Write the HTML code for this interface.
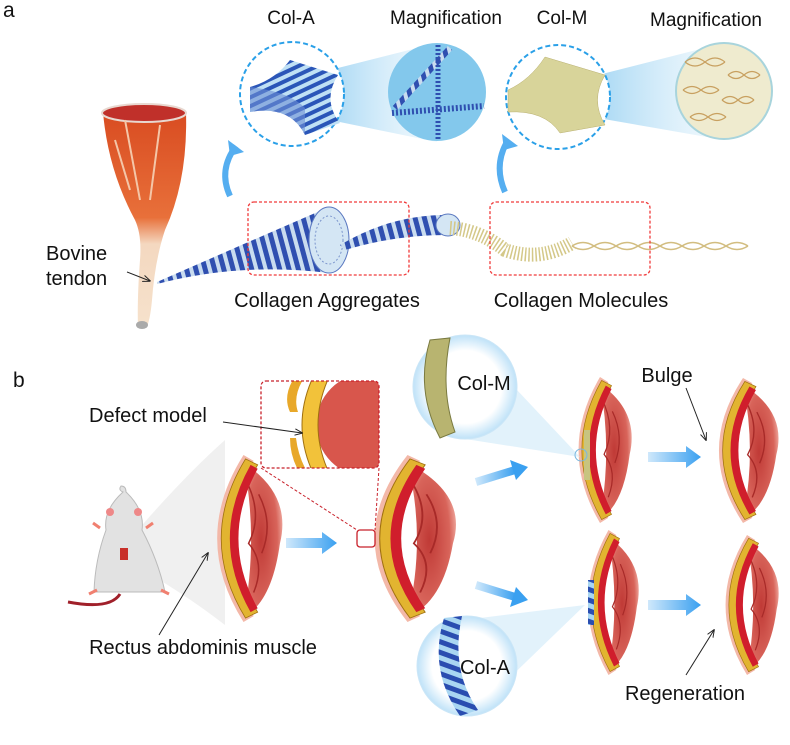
<!DOCTYPE html>
<html><head><meta charset="utf-8"><style>
html,body{margin:0;padding:0;background:#fff}
svg{display:block}
text{font-family:"Liberation Sans",Arial,sans-serif;fill:#111}
</style></head><body>
<svg width="790" height="745" viewBox="0 0 790 745" xmlns="http://www.w3.org/2000/svg">
<defs>
<pattern id="stripe" width="9" height="9" patternUnits="userSpaceOnUse" patternTransform="rotate(-15)">
<rect width="9" height="9" fill="#c9dcef"/><rect width="5" height="9" fill="#2f4fb0"/></pattern>
<pattern id="stripeH" width="10" height="8" patternUnits="userSpaceOnUse" patternTransform="rotate(-25)">
<rect width="10" height="8" fill="#bfe0f5"/><rect width="10" height="4" fill="#2b56b8"/></pattern>
<pattern id="stripeA" width="10" height="10" patternUnits="userSpaceOnUse" patternTransform="rotate(20)">
<rect width="10" height="10" fill="#a9d6f2"/><rect width="10" height="5" fill="#2a4db0"/></pattern>
<linearGradient id="cone" x1="0" x2="1"><stop offset="0" stop-color="#9fd4f3" stop-opacity=".9"/><stop offset="1" stop-color="#dff1fb" stop-opacity=".4"/></linearGradient>
<linearGradient id="tend" x1="0" y1="0" x2="0" y2="1"><stop offset="0" stop-color="#d84a20"/><stop offset=".5" stop-color="#e8703a"/><stop offset=".62" stop-color="#f4d8c0"/><stop offset="1" stop-color="#f6e2cc"/></linearGradient>
<linearGradient id="barrow" x1="0" x2="1"><stop offset="0" stop-color="#cfe8fb"/><stop offset="1" stop-color="#3aa0f0"/></linearGradient>
<radialGradient id="intes" cx=".45" cy=".5" r=".6"><stop offset="0" stop-color="#c03a36"/><stop offset=".7" stop-color="#d8645a"/><stop offset="1" stop-color="#f2b2a8"/></radialGradient>
<radialGradient id="bubble" cx=".5" cy=".5" r=".5"><stop offset=".7" stop-color="#fff"/><stop offset="1" stop-color="#bfe2f8"/></radialGradient>
<clipPath id="inclip"><rect x="261" y="381" width="118" height="87" rx="5"/></clipPath>
<symbol id="abd" viewBox="0 0 80 170" preserveAspectRatio="none">
<path d="M40,8 Q88,40 76,90 Q68,150 40,165 Q55,85 40,8 Z" fill="url(#intes)"/>
<path d="M42,25 Q60,60 45,90 Q62,110 50,140 M55,40 Q70,70 58,100" stroke="#a82a28" stroke-width="1.5" fill="none"/>
<path d="M40,0 Q-12,85 40,170 L50,164 Q6,85 50,6 Z" fill="#f3b8a8"/>
<path d="M42,4 Q-6,85 42,166 L54,160 Q12,85 54,10 Z" fill="#e2b430" stroke="#a07010" stroke-width=".8"/>
<path d="M47,10 Q6,85 47,160 L54,156 Q16,85 54,14 Z" fill="#d01e2c"/>
</symbol>
<marker id="ah" viewBox="0 0 10 10" refX="9" refY="5" markerWidth="8" markerHeight="8" orient="auto"><path d="M0,1 L10,5 L0,9" fill="none" stroke="#222" stroke-width="1.2"/></marker>
</defs>

<text x="3" y="17" font-size="21">a</text>
<text x="291" y="24" font-size="19" text-anchor="middle">Col-A</text>
<text x="446" y="24" font-size="19" text-anchor="middle">Magnification</text>
<text x="562" y="24" font-size="19" text-anchor="middle">Col-M</text>
<text x="706" y="26" font-size="19" text-anchor="middle">Magnification</text>

<path d="M330,70 L437,43 L437,142 L330,120 Z" fill="url(#cone)"/>
<circle cx="292" cy="94" r="52" fill="#fff" stroke="#2aa0e8" stroke-width="2" stroke-dasharray="5,3"/>
<path d="M250,87 Q275,80 290,60 L338,75 Q322,100 340,123 L305,135 Q290,105 250,112 Z" fill="url(#stripeH)"/>
<path d="M250,112 Q290,105 305,135 L305,108 Q290,92 250,87 Z" fill="#6e8fd4" opacity=".6"/>
<circle cx="437" cy="92" r="49" fill="#83c8ec"/>
<line x1="395" y1="108" x2="450" y2="48" stroke="url(#stripe)" stroke-width="6"/>
<line x1="438" y1="45" x2="438" y2="140" stroke="#2f4fb0" stroke-width="5" stroke-dasharray="2,2"/>
<line x1="392" y1="113" x2="484" y2="106" stroke="#2f4fb0" stroke-width="6" stroke-dasharray="2,2"/>

<path d="M598,75 L724,43 L724,140 L598,118 Z" fill="url(#cone)"/>
<circle cx="558" cy="97" r="52" fill="#fff" stroke="#2aa0e8" stroke-width="2" stroke-dasharray="5,3"/>
<path d="M508,90 Q530,80 545,57 L605,75 Q590,100 605,125 L560,133 Q545,110 508,112 Z" fill="#d8d49a" stroke="#b9b070" stroke-width=".5"/>
<circle cx="724" cy="91" r="48" fill="#efebcf" stroke="#a8d4dc" stroke-width="2"/>
<g stroke="#c8a060" stroke-width="1.2" fill="none">
<path d="M685,62 q10,-8 20,0 q10,8 20,0 M685,62 q10,8 20,0 q10,-8 20,0"/>
<path d="M728,75 q8,-7 16,0 q8,7 16,0 M728,75 q8,7 16,0 q8,-7 16,0"/>
<path d="M683,90 q9,-7 18,0 q9,7 18,0 M683,90 q9,7 18,0 q9,-7 18,0"/>
<path d="M722,100 q8,-7 16,0 q8,7 16,0 M722,100 q8,7 16,0 q8,-7 16,0"/>
<path d="M690,117 q9,-7 18,0 q9,7 18,0 M690,117 q9,7 18,0 q9,-7 18,0"/>
</g>

<path d="M230,196 Q218,170 236,146" stroke="#55aef0" stroke-width="6" fill="none"/>
<path d="M228,140 L244,152 L230,156 Z" fill="#55aef0"/>
<path d="M505,192 Q493,165 508,140" stroke="#55aef0" stroke-width="6" fill="none"/>
<path d="M502,134 L518,146 L504,150 Z" fill="#55aef0"/>

<path d="M103,112 Q140,102 186,112 Q188,180 165,230 Q155,260 152,300 Q150,322 146,328 L138,328 Q137,300 140,260 Q142,235 135,220 Q108,170 103,112 Z" fill="url(#tend)"/>
<ellipse cx="144" cy="113" rx="42" ry="9" fill="#c0302a" stroke="#e8d8d0" stroke-width="2"/>
<path d="M125,120 L140,200 M160,125 L150,200 M115,140 L130,190" stroke="#f4c6a8" stroke-width="2"/>
<ellipse cx="142" cy="325" rx="6" ry="4" fill="#aaa"/>

<path d="M157,282 Q230,250 329,207 L329,273 Q240,262 157,284 Z" fill="url(#stripe)"/>
<ellipse cx="329" cy="240" rx="20" ry="33" fill="#d4e6f4" stroke="#5a78c0" stroke-width="1"/>
<ellipse cx="329" cy="240" rx="14" ry="24" fill="none" stroke="#7a94cc" stroke-dasharray="2,2"/>
<path d="M340,245 Q390,215 446,215 L446,235 Q395,235 345,250 Z" fill="url(#stripe)"/>
<ellipse cx="448" cy="225" rx="12" ry="11" fill="#d4e6f4" stroke="#5a78c0"/>
<path d="M450,228 Q480,230 505,250 Q540,262 572,243" stroke="#d4c888" stroke-width="14" fill="none" stroke-dasharray="1.5,2"/>
<g stroke="#d2bd80" stroke-width="1.5" fill="none">
<path d="M572,246 q11,-7 22,0 q11,7 22,0 q11,-7 22,0 q11,7 22,0 q11,-7 22,0 q11,7 22,0 q11,-7 22,0 q11,7 22,0"/>
<path d="M572,246 q11,7 22,0 q11,-7 22,0 q11,7 22,0 q11,-7 22,0 q11,7 22,0 q11,-7 22,0 q11,7 22,0 q11,-7 22,0"/>
</g>
<rect x="248" y="202" width="161" height="73" rx="6" fill="none" stroke="#f03a3a" stroke-width="1.3" stroke-dasharray="3,2"/>
<rect x="490" y="202" width="160" height="73" rx="6" fill="none" stroke="#f03a3a" stroke-width="1.3" stroke-dasharray="3,2"/>
<text x="327" y="307" font-size="20" text-anchor="middle">Collagen Aggregates</text>
<text x="581" y="307" font-size="20" text-anchor="middle">Collagen Molecules</text>
<text x="46" y="260" font-size="20">Bovine</text>
<text x="46" y="285" font-size="20">tendon</text>
<line x1="127" y1="272" x2="150" y2="281" stroke="#222" stroke-width="1" marker-end="url(#ah)"/>

<text x="13" y="387" font-size="21">b</text>
<path d="M125,545 Q180,480 225,440 L225,625 Q180,590 125,560 Z" fill="#ececec" opacity=".8"/>
<path d="M123,492 Q118,490 121,486 Q126,486 126,492 Q145,510 142,530 Q158,560 165,592 L94,592 Q95,560 106,530 Q103,510 123,492 Z" fill="#e2e2e2" stroke="#bbb"/>
<circle cx="110" cy="512" r="4" fill="#e88"/><circle cx="138" cy="512" r="4" fill="#e88"/>
<rect x="120" y="548" width="8" height="12" fill="#c8302a"/>
<path d="M120,594 Q110,610 68,602" stroke="#a0202a" stroke-width="3" fill="none"/>
<path d="M100,528 l-7,-5 M146,528 l7,-5 M97,590 l-8,4 M161,590 l8,4" stroke="#f08070" stroke-width="3"/>

<use href="#abd" x="203" y="455" width="81" height="167"/>
<use href="#abd" x="357" y="455" width="101" height="167"/>
<use href="#abd" x="567" y="377" width="66" height="146"/>
<use href="#abd" x="706" y="378" width="74" height="145"/>
<use href="#abd" x="577" y="530" width="63" height="145"/>
<use href="#abd" x="714" y="535" width="66" height="140"/>
<rect x="584" y="430" width="6" height="50" fill="#c8c480"/>
<rect x="588" y="580" width="6" height="45" fill="url(#stripeA)"/>

<rect x="261" y="381" width="118" height="87" rx="5" fill="#fff"/>
<g clip-path="url(#inclip)">
<circle cx="368" cy="425" r="52" fill="#d8564c"/>
<path d="M330,375 Q306,425 330,475 L314,475 Q290,425 314,375 Z" fill="#f2c23a" stroke="#a07010"/>
<path d="M306,375 Q292,395 298,412 L290,412 Q282,395 296,375 Z" fill="#e8a82a"/>
<path d="M296,438 Q298,455 306,470 L298,470 Q290,455 290,438 Z" fill="#e8a82a"/>
</g>
<rect x="261" y="381" width="118" height="87" rx="5" fill="none" stroke="#c8202a" stroke-width="1.3" stroke-dasharray="3,2"/>
<line x1="261" y1="468" x2="357" y2="530" stroke="#c8202a" stroke-dasharray="3,2"/>
<line x1="379" y1="468" x2="375" y2="530" stroke="#c8202a" stroke-dasharray="3,2"/>
<rect x="357" y="530" width="18" height="17" rx="3" fill="none" stroke="#c8202a" stroke-width="1.3"/>
<text x="89" y="422" font-size="20">Defect model</text>
<line x1="223" y1="422" x2="302" y2="433" stroke="#222" marker-end="url(#ah)"/>

<g fill="url(#barrow)">
<path d="M286,538 L322,538 L322,532 L337,543 L322,554 L322,548 L286,548 Z"/>
<path d="M648,452 L686,452 L686,446 L701,457 L686,468 L686,462 L648,462 Z"/>
<path d="M648,600 L686,600 L686,594 L701,605 L686,616 L686,610 L648,610 Z"/>
</g>
<path d="M476,482 L515,470" stroke="url(#barrow)" stroke-width="8"/><path d="M510,460 L528,467 L516,480 Z" fill="#3aa0f0"/>
<path d="M476,585 L515,597" stroke="url(#barrow)" stroke-width="8"/><path d="M516,587 L528,600 L510,607 Z" fill="#3aa0f0"/>

<path d="M470,340 L580,457 L440,435 Z" fill="#d6ecfa" opacity=".7"/>
<circle cx="465" cy="387" r="52" fill="url(#bubble)" stroke="#cbe6f7"/>
<path d="M430,340 Q415,390 440,438 L455,432 Q440,390 450,338 Z" fill="#b8b470" stroke="#7a7a40"/>
<text x="484" y="390" font-size="20" text-anchor="middle">Col-M</text>
<circle cx="581" cy="455" r="6" fill="none" stroke="#7ab8e0"/>

<path d="M480,618 L585,605 L470,716 Z" fill="#d6ecfa" opacity=".7"/>
<circle cx="467" cy="666" r="50" fill="url(#bubble)" stroke="#cbe6f7"/>
<path d="M444,618 Q428,670 460,716 L478,710 Q450,670 462,616 Z" fill="url(#stripeA)"/>
<text x="485" y="674" font-size="20" text-anchor="middle">Col-A</text>

<text x="667" y="382" font-size="20" text-anchor="middle">Bulge</text>
<line x1="686" y1="388" x2="706" y2="440" stroke="#222" marker-end="url(#ah)"/>
<text x="203" y="654" font-size="20" text-anchor="middle">Rectus abdominis muscle</text>
<line x1="159" y1="635" x2="208" y2="553" stroke="#222" marker-end="url(#ah)"/>
<text x="685" y="700" font-size="20" text-anchor="middle">Regeneration</text>
<line x1="686" y1="675" x2="714" y2="630" stroke="#222" marker-end="url(#ah)"/>
</svg>
</body></html>
